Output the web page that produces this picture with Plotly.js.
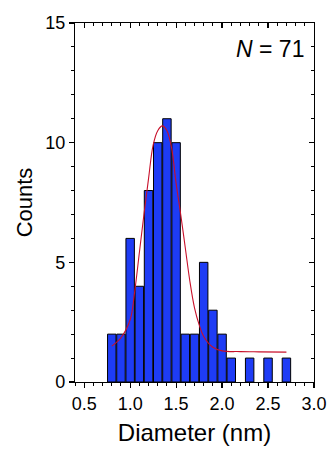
<!DOCTYPE html>
<html>
<head>
<meta charset="utf-8">
<script src="https://cdn.plot.ly/plotly-3.0.1.min.js"></script>
<style>html,body{margin:0;padding:0;background:#fff}#chart{width:330px;height:450px}</style>
</head>
<body>
<div id="chart"></div>
<script>
// Histogram bins (diameter centres, nm) and counts
var binCenters = [0.8, 0.9, 1.0, 1.1, 1.2, 1.3, 1.4, 1.5, 1.6, 1.7, 1.8, 1.9, 2.0, 2.1, 2.3, 2.5, 2.7];
var counts     = [2,   2,   6,   4,   8,   10,  11,  10,  2,   2,   5,   3,   2,   1,   1,   1,   1];
// Fitted curve, points
var fitX = [0.80, 0.90, 1.00, 1.05, 1.10, 1.15, 1.20, 1.25, 1.30, 1.35, 1.40, 1.45, 1.50, 1.55, 1.60, 1.65, 1.70, 1.75, 1.80, 1.90, 2.00, 2.20, 2.40, 2.70];
var fitY = [1.5,  1.85, 2.6,  3.8,  5.4,  7.0,  8.5,  9.9,  10.5, 10.7, 10.5, 9.8,  8.3,  7.0,  5.6,  4.2,  3.1,  2.4,  1.9,  1.45, 1.3,  1.27, 1.26, 1.25];
var xTicks = [0.5, 1.0, 1.5, 2.0, 2.5, 3.0];
var xTickText = ['0.5', '1.0', '1.5', '2.0', '2.5', '3.0'];
var yTicks = [0, 5, 10, 15];
var nLabel = '<i>N</i> = 71';

var FONT = 'Liberation Sans, Arial, sans-serif';

var traces = [
  {
    type: 'bar', x: binCenters, y: counts, width: 0.092,
    marker: {color: '#1e3cf5', line: {color: '#000', width: 1}},
    hoverinfo: 'skip'
  },
  {
    type: 'scatter', mode: 'lines', x: fitX, y: fitY,
    line: {color: '#c8102a', width: 1.1, shape: 'spline'},
    hoverinfo: 'skip'
  },
  {
    type: 'scatter', mode: 'lines', x: [], y: [], xaxis: 'x2', yaxis: 'y2',
    hoverinfo: 'skip', showlegend: false
  }
];

var layout = {
  width: 330, height: 450,
  margin: {l: 75, r: 16, t: 23, b: 68},
  paper_bgcolor: '#fff', plot_bgcolor: '#fff',
  showlegend: false,
  font: {family: FONT, color: '#000', size: 18},
  xaxis: {
    range: [0.4, 3.0], showgrid: false, zeroline: false,
    showline: true, linecolor: '#000', linewidth: 1.2,
    tickmode: 'array', tickvals: xTicks, ticktext: xTickText,
    ticks: 'outside', ticklen: 5, tickwidth: 1.2, tickcolor: '#000',
    minor: {dtick: 0.1, tick0: 0, ticks: 'outside', ticklen: 3, tickwidth: 1, tickcolor: '#000', showgrid: false},
    tickfont: {size: 18, family: FONT},
    title: {text: 'Diameter (nm)', font: {size: 24, family: FONT}, standoff: 11}
  },
  yaxis: {
    range: [0, 15], showgrid: false, zeroline: false,
    showline: true, linecolor: '#000', linewidth: 1.2,
    tickmode: 'array', tickvals: yTicks,
    ticks: 'outside', ticklen: 5, tickwidth: 1.2, tickcolor: '#000',
    minor: {dtick: 1, ticks: 'outside', ticklen: 3, tickwidth: 1, tickcolor: '#000', showgrid: false},
    tickfont: {size: 18, family: FONT},
    title: {text: 'Counts', font: {size: 22, family: FONT}, standoff: 6}
  },
  xaxis2: {
    overlaying: 'x', side: 'top', anchor: 'y2', range: [0.4, 3.0],
    showgrid: false, zeroline: false, showline: true, linecolor: '#000', linewidth: 1.2,
    tickmode: 'array', tickvals: xTicks, showticklabels: false,
    ticks: 'inside', ticklen: 5, tickwidth: 1.2, tickcolor: '#000',
    minor: {dtick: 0.1, tick0: 0, ticks: 'inside', ticklen: 3, tickwidth: 1, tickcolor: '#000', showgrid: false}
  },
  yaxis2: {
    overlaying: 'y', side: 'right', anchor: 'x2', range: [0, 15],
    showgrid: false, zeroline: false, showline: true, linecolor: '#000', linewidth: 1.2,
    tickmode: 'array', tickvals: yTicks, showticklabels: false,
    ticks: 'inside', ticklen: 5, tickwidth: 1.2, tickcolor: '#000',
    minor: {dtick: 1, ticks: 'inside', ticklen: 3, tickwidth: 1, tickcolor: '#000', showgrid: false}
  },
  annotations: [{
    xref: 'paper', yref: 'paper', x: 1, y: 1, xanchor: 'right', yanchor: 'top',
    xshift: -8, yshift: -11, showarrow: false,
    text: nLabel, font: {size: 23, family: FONT, color: '#000'}
  }]
};

Plotly.newPlot('chart', traces, layout, {staticPlot: true, displayModeBar: false});
</script>
</body>
</html>
